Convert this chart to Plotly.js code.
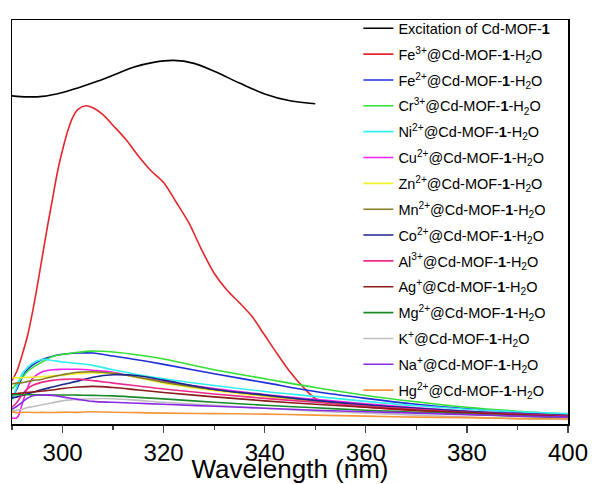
<!DOCTYPE html>
<html>
<head>
<meta charset="utf-8">
<script src="https://cdn.plot.ly/plotly-3.0.1.min.js"></script>
<style>html,body{margin:0;padding:0;background:#fff;}#chart{width:592px;height:484px;}</style>
</head>
<body>
<div id="chart"></div>
<script>
// Excitation spectrum of Cd-MOF-1
const excWl = [290, 293, 296, 300, 303, 307, 311, 314, 318, 322, 326, 330, 335, 340, 345, 350];
const excI  = [333, 332, 332.5, 336.5, 341, 348, 356, 362, 367, 369, 366, 358, 346, 335, 328, 325];

// Fe3+ (red)
const fe3Wl = [290, 291, 292, 293, 294, 295, 296, 297, 298, 299, 300, 301, 302, 303, 304.6, 306, 308, 310, 312.5, 315, 317.5, 320, 322.5, 325, 327.5, 330, 332.5, 335, 337.5, 340, 342.5, 345, 347.5, 350, 355, 360, 370, 380, 390, 400];
const fe3I  = [44, 54, 70, 88, 112, 140, 170, 200, 228, 256, 278, 297, 311, 319, 323, 321, 314, 303, 289, 272, 257, 245, 225, 204, 177, 153, 136, 123, 109, 90, 71, 53, 38, 26, 20, 17, 13.5, 11, 9, 7];

// Common wavelength grid for the other ions
const wl = [290, 291, 292, 293, 294, 296, 298, 300, 303, 306, 310, 315, 320, 330, 340, 350, 360, 370, 380, 390, 400];
const fe2I = [27, 36, 47, 55, 59.5, 65.5, 68.8, 70.8, 72, 72, 69, 65, 60.5, 51, 42, 33, 26, 20, 15.5, 12, 9];
const cr3I = [35.7, 41, 47, 53, 57, 63, 68.5, 70.5, 72.8, 74, 73, 70, 66, 55, 46, 37, 29, 22.5, 17, 13, 10];
const ni2I = [24, 38, 51, 57, 61.5, 65.5, 64.5, 63, 61.5, 59.5, 55, 50, 46, 39, 33, 28, 23, 18.5, 15, 12.5, 10.5];
const cu2I = [6, 6.5, 20, 36, 46, 53, 55, 55.5, 55.5, 54.5, 52.5, 47, 43, 36, 30, 25, 20.5, 16.5, 13, 10.5, 8.5];
const zn2I = [47, 47, 47, 47.3, 47.5, 48, 48.8, 49.5, 51, 51.8, 51.5, 47, 41.5, 34, 28, 23, 18.5, 15, 12, 9.5, 7.5];
const mn2I = [40.7, 41.5, 42, 43, 44, 45.5, 48, 50, 52.5, 53, 51.5, 47.5, 42.5, 35, 29, 23.5, 19, 15.5, 12.5, 10, 8];
const co2I = [26.5, 27.5, 29, 30.5, 32, 35, 37.5, 40, 43.5, 47.5, 50, 49, 44.5, 35, 29.5, 24, 19.5, 16, 13, 10.5, 8.5];
const al3I = [17, 22, 30, 35.5, 39, 42.5, 44.3, 45.3, 45.5, 44, 41.5, 38.5, 35.5, 30.5, 26, 22, 18, 15, 12, 10, 8];
const agI  = [30.7, 31, 31.5, 32, 32.5, 33.5, 34.5, 36, 37.5, 38.2, 37, 34.5, 32, 27.5, 23.5, 20, 17, 14, 11.5, 9.5, 7.5];
const mg2I = [29.7, 29.7, 29.7, 29.7, 29.6, 29.5, 29.5, 29.5, 29.3, 29, 28.5, 27, 25.5, 22, 19, 16.5, 14, 12, 10, 8, 6.5];
const kI   = [13, 14, 15, 16.5, 17.5, 19.5, 21.5, 23.5, 25, 25.7, 25.7, 24, 22, 19, 16, 13, 11, 9, 7, 5.5, 4.5];
const naI  = [15, 18, 22, 26, 28.5, 29.5, 29, 27.5, 25, 23, 22, 21, 20, 18, 16, 14, 12.5, 11, 9.5, 8, 7];
const hg2I = [12.3, 11.5, 11.8, 12, 11.7, 11.8, 11.6, 12, 11.8, 12.5, 12, 11.5, 11, 10.5, 10, 9, 8, 7, 6.5, 5.5, 5];

const ionNames = ['Fe<sup>2+</sup>', 'Cr<sup>3+</sup>', 'Ni<sup>2+</sup>', 'Cu<sup>2+</sup>', 'Zn<sup>2+</sup>', 'Mn<sup>2+</sup>', 'Co<sup>2+</sup>', 'Al<sup>3+</sup>', 'Ag<sup>+</sup>', 'Mg<sup>2+</sup>', 'K<sup>+</sup>', 'Na<sup>+</sup>', 'Hg<sup>2+</sup>'];
const ionData = [fe2I, cr3I, ni2I, cu2I, zn2I, mn2I, co2I, al3I, agI, mg2I, kI, naI, hg2I];
const ionColors = ['#1f2fd6', '#33e033', '#33eeee', '#ee22ee', '#f2f22a', '#857a26', '#1c2590', '#ee2a88', '#8b1a1a', '#1a8a2a', '#bfbfbf', '#8a2be2', '#f5953a'];

const suffix = '@Cd-MOF-<b>1</b>-H<sub>2</sub>O';
const LW = 1.6;

const traces = [];
traces.push({x: excWl, y: excI, mode: 'lines', name: 'Excitation of Cd-MOF-<b>1</b>',
  line: {color: '#000000', width: LW, shape: 'spline'}, legendgroup: 'g0'});
traces.push({x: fe3Wl, y: fe3I, mode: 'lines', name: 'Fe<sup>3+</sup>' + suffix,
  line: {color: '#e3262b', width: LW, shape: 'spline', smoothing: 0.8}, legendgroup: 'g1'});
ionNames.forEach((n, i) => {
  traces.push({x: wl, y: ionData[i], mode: 'lines', name: n + suffix,
    line: {color: ionColors[i], width: LW, shape: 'spline'}, legendgroup: 'g' + (i + 2)});
});

const layout = {
  width: 592, height: 484,
  margin: {l: 12, r: 24, t: 14, b: 60},
  paper_bgcolor: '#ffffff', plot_bgcolor: '#ffffff',
  font: {family: 'Arial, "Liberation Sans", sans-serif', color: '#000'},
  showlegend: true,
  legend: {x: 0.623, xanchor: 'left', y: 1.019, yanchor: 'top', bgcolor: 'rgba(0,0,0,0)',
    borderwidth: 0, font: {size: 14.5, color: '#000'}, tracegroupgap: 4, itemwidth: 30,
    maxheight: 470},
  xaxis: {range: [290, 400], dtick: 20, tick0: 300, ticks: 'outside', ticklen: 7, tickwidth: 1.3,
    showline: true, linewidth: 1.5, linecolor: '#000', mirror: true, showgrid: false, zeroline: false,
    tickfont: {size: 24}, minor: {dtick: 10, ticks: 'outside', ticklen: 4, tickwidth: 1.3, showgrid: false},
    title: {text: 'Wavelength (nm)', font: {size: 26}, standoff: 10}},
  yaxis: {range: [0, 410], showticklabels: false, ticks: '', showline: true, linewidth: 1.5,
    linecolor: '#000', mirror: true, showgrid: false, zeroline: false}
};

Plotly.newPlot('chart', traces, layout, {displayModeBar: false, staticPlot: true});
</script>
</body>
</html>
